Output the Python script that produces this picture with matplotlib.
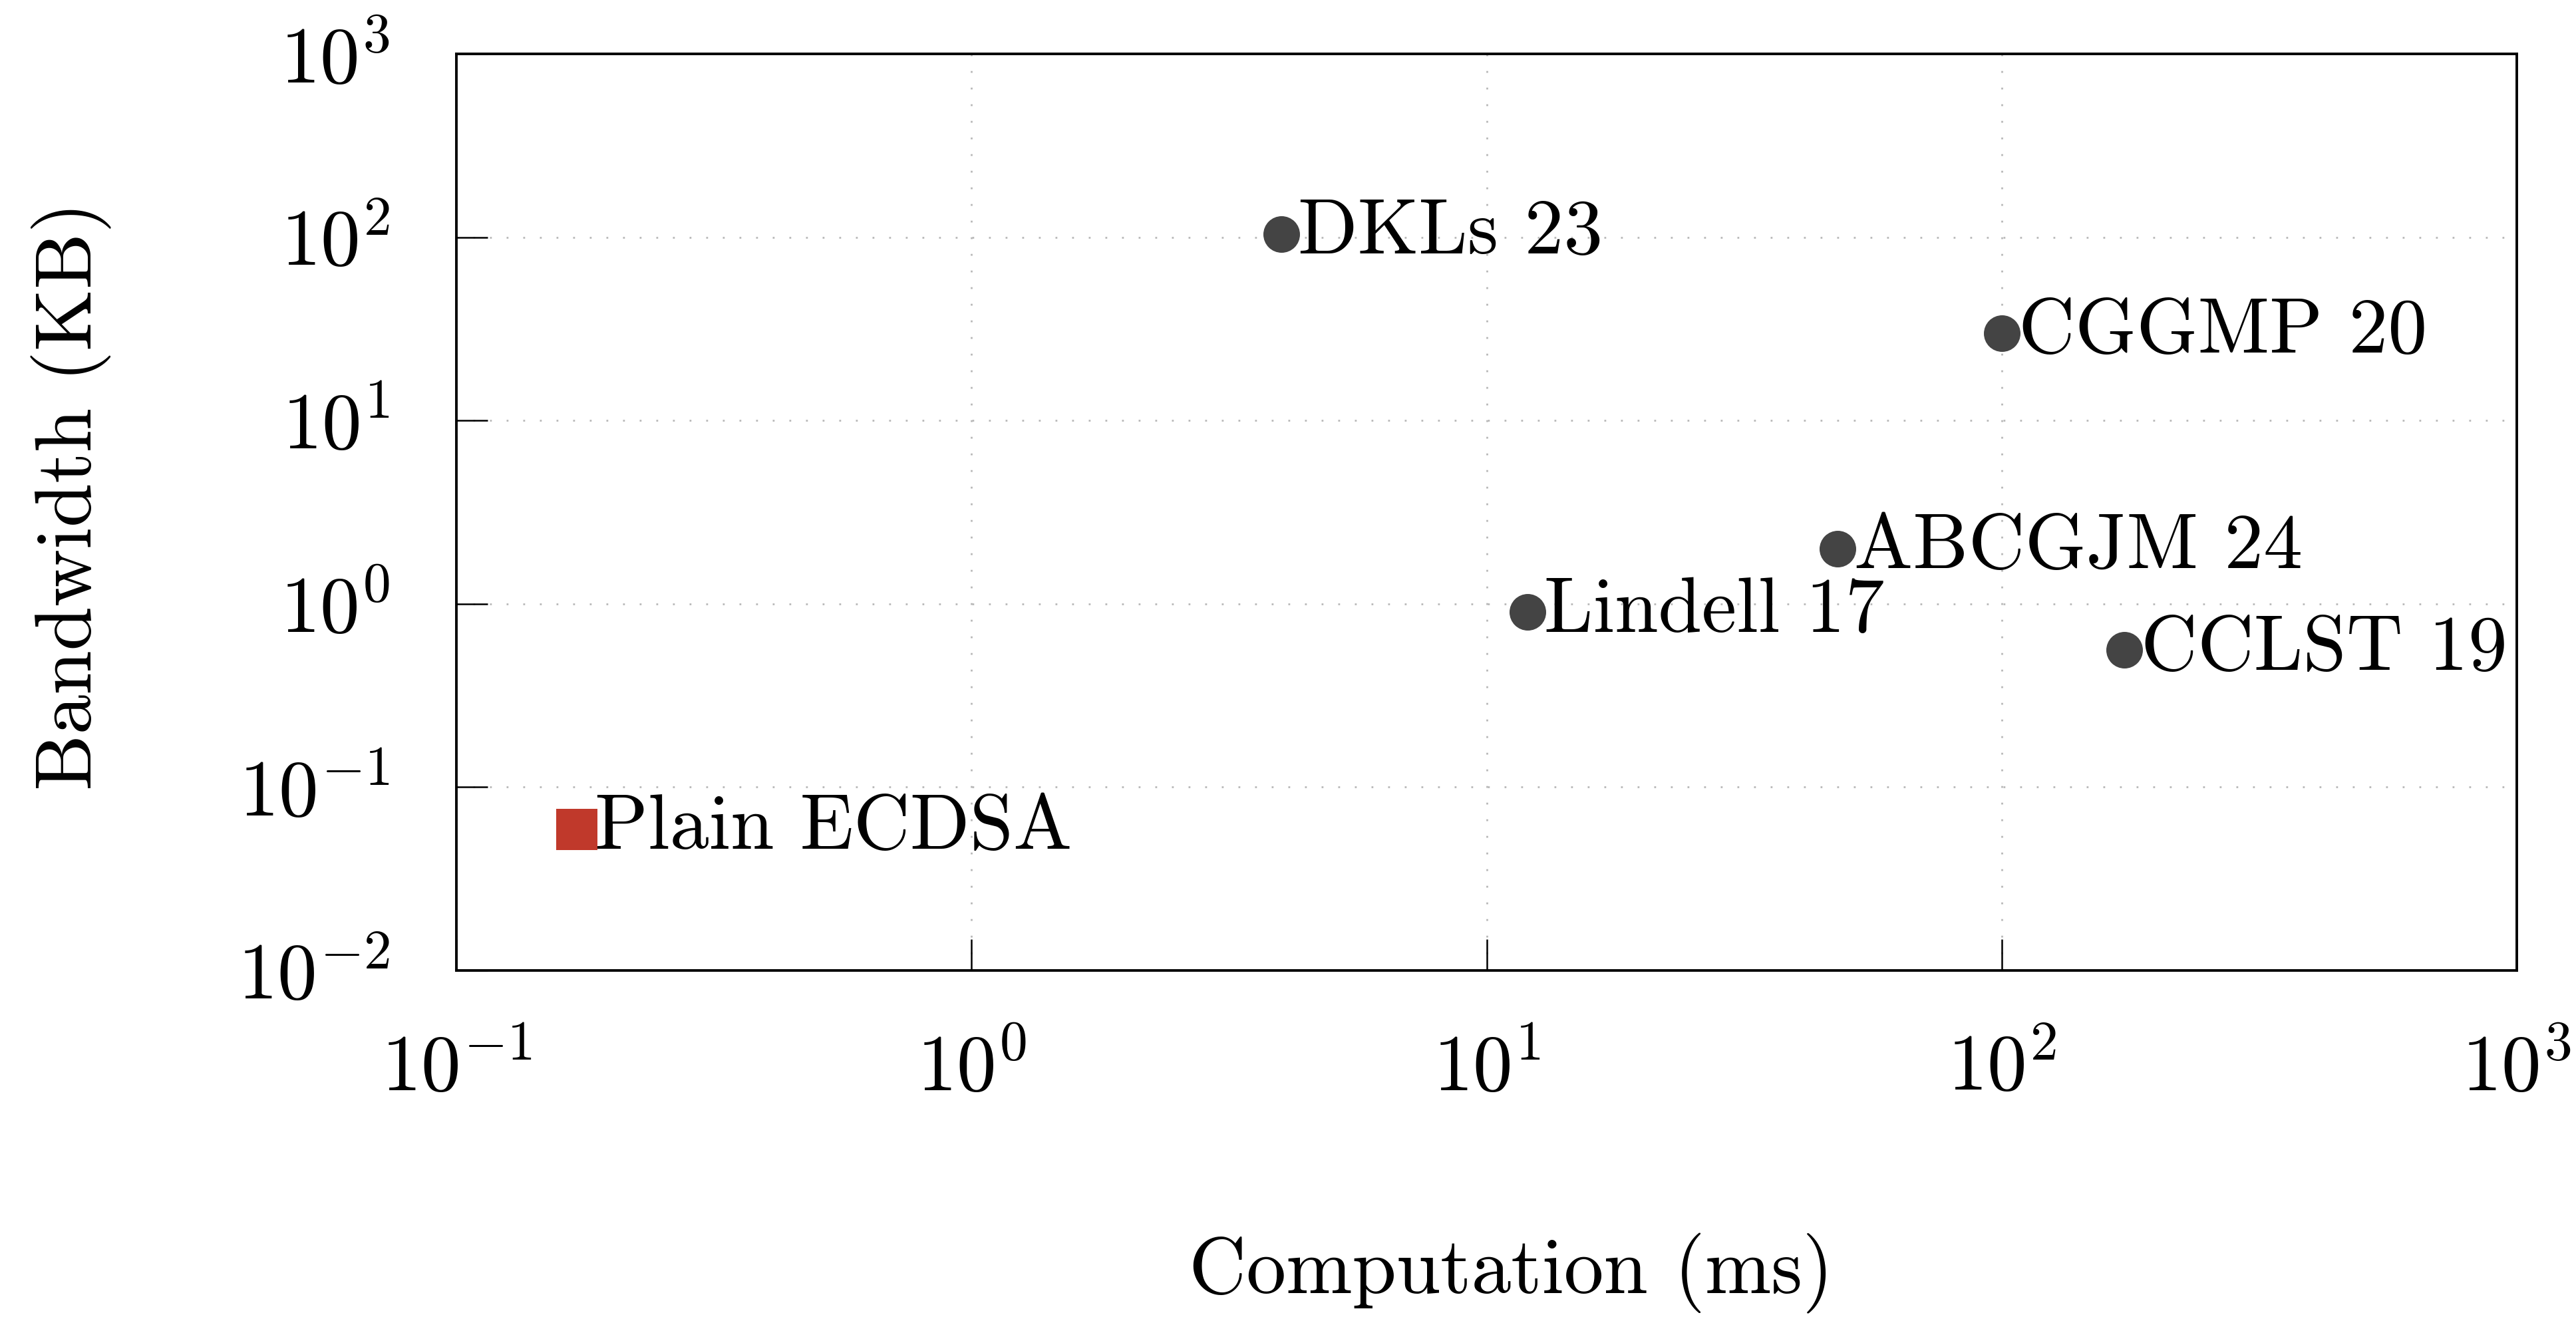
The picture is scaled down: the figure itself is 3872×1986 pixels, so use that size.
import numpy as np
import matplotlib
matplotlib.use("Agg")
import matplotlib.pyplot as plt
from matplotlib.ticker import FixedLocator, FuncFormatter, NullLocator

# Computer Modern look
plt.rcParams['font.family'] = 'serif'
plt.rcParams['font.serif'] = ['cmr10', 'DejaVu Serif']
plt.rcParams['mathtext.fontset'] = 'cm'
plt.rcParams['axes.unicode_minus'] = False
plt.rcParams['axes.formatter.use_mathtext'] = True

# Data (computation in ms, bandwidth in KB)
protocols = ["DKLs 23", "CGGMP 20", "ABCGJM 24", "Lindell 17", "CCLST 19"]
comp_ms = [4.0, 100, 48, 12, 173]
bandwidth_kb = [104, 30, 2.0, 0.90, 0.56]

baseline_name = "Plain ECDSA"
baseline_ms = [0.171]
baseline_kb = [0.059]

x_ticks = [1e-1, 1e0, 1e1, 1e2, 1e3]
y_ticks = [1e-2, 1e-1, 1e0, 1e1, 1e2, 1e3]

fig = plt.figure(figsize=(9.68, 4.965), dpi=400)
ax = fig.add_axes([0.1772, 0.2653, 0.7998, 0.6939])

ax.set_xscale('log')
ax.set_yscale('log')
ax.set_xlim(1e-1, 1e3)
ax.set_ylim(1e-2, 1e3)

ax.grid(True, which='major', color='#b8b8b8', linewidth=0.5, linestyle=(0, (1, 8)))
ax.set_axisbelow(True)

ax.plot(comp_ms, bandwidth_kb, linestyle='none', marker='o', markersize=9.9,
        color='#444444', markeredgewidth=0, zorder=3)
ax.plot(baseline_ms, baseline_kb, linestyle='none', marker='s', markersize=11,
        color='#c0392b', markeredgewidth=0, zorder=3)

fs = 21.2
for name, x, y in zip(protocols, comp_ms, bandwidth_kb):
    ax.annotate(name, (x, y), xytext=(4.5, 0), textcoords='offset points',
                fontsize=fs, ha='left', va='center')
ax.annotate(baseline_name, (baseline_ms[0], baseline_kb[0]), xytext=(5, 0),
            textcoords='offset points', fontsize=fs, ha='left', va='center')

fmt = FuncFormatter(lambda v, pos: r'$10^{%d}$' % int(round(np.log10(v))))
ax.xaxis.set_major_locator(FixedLocator(x_ticks))
ax.yaxis.set_major_locator(FixedLocator(y_ticks))
ax.xaxis.set_minor_locator(NullLocator())
ax.yaxis.set_minor_locator(NullLocator())
ax.xaxis.set_major_formatter(fmt)
ax.yaxis.set_major_formatter(fmt)

ax.tick_params(axis='both', which='major', direction='in', length=8.5, width=0.45,
               labelsize=21.5, top=False, right=False)
ax.tick_params(axis='x', pad=17)
ax.tick_params(axis='y', pad=18)

for s in ax.spines.values():
    s.set_linewidth(0.7)

ax.set_xlabel("Computation (ms)", fontsize=21.5)
ax.set_ylabel("Bandwidth (KB)", fontsize=21.5)
ax.xaxis.label.set_verticalalignment('center')
ax.yaxis.label.set_verticalalignment('center')
ax.yaxis.label.set_horizontalalignment('center')
ax.xaxis.set_label_coords(0.512, -0.33)
ax.yaxis.set_label_coords(-0.187, 0.518)

fig.savefig("out.png", dpi=400)
